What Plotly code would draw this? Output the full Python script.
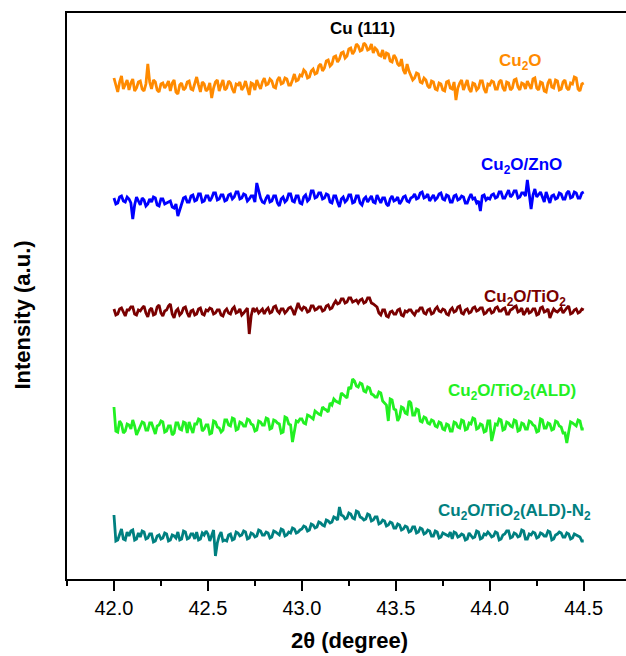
import numpy as np
import plotly.graph_objects as go

# 2-theta grid (degrees), 0.01 step
two_theta = [round(42.0 + 0.01 * i, 2) for i in range(251)]

# Relative intensities (a.u.), one row per 0.1 degree
cu2o = [
    8, 2, -6, 4, 10, -3, 2, 6, -4, 3,
    7, -5, -2, 4, 5, -3, -5, 2, 22, 4,
    -3, 6, 4, -4, -6, 2, 3, -2, 1, 5,
    -5, 3, 6, -6, -8, 1, 3, -4, -2, 4,
    5, -3, -4, 2, 9, 1, -6, 4, 2, -5,
    -3, 3, -12, -2, 4, 6, -5, 1, 6, -4,
    -2, 5, 3, -3, -7, 2, 1, 4, -4, -1,
    5, -2, -9, 3, 2, -4, 6, 1, -3, 4,
    8, 1, 2, 7, 5, -1, -2, 6, 9, 2,
    3, 8, 7, 1, 1, 6, 12, 5, 6, 11,
    10, 16, 14, 8, 9, 15, 17, 12, 13, 20,
    22, 15, 18, 25, 26, 20, 22, 29, 30, 24,
    27, 33, 34, 28, 30, 37, 38, 32, 35, 42,
    40, 35, 36, 43, 41, 36, 37, 42, 33, 38,
    36, 31, 30, 36, 27, 33, 32, 25, 24, 31,
    28, 22, 20, 27, 16, 12, 22, 15, 11, 6,
    8, 13, 12, 4, 3, 8, 6, 0, -2, 5,
    4, -3, -4, 3, 2, -4, -5, 4, 5, -2,
    -3, 4, -14, -2, 3, 6, -4, 2, 6, -3,
    -6, 3, 2, -4, -2, 5, 5, -3, -7, 2,
    1, 5, 4, -3, -3, 4, 6, -2, -5, 4,
    3, -4, -2, 6, 7, -1, -4, 3, 2, -3,
    5, 1, -3, 7, 8, -2, -4, 4, 3, -5,
    -6, 3, 7, -1, -2, 6, 5, -4, -3, 4,
    6, -2, -4, 3, 2, 9, 8, -3, -5, 2,
    3,
]
cu2o_zno = [
    2, -4, -3, 3, 4, -1, -2, 3, 1, -3,
    -19, -5, 3, -2, -5, 2, 0, -6, -4, 1,
    -2, 3, 2, -5, -6, 1, 1, -4, -3, -2,
    -1, -7, -8, -4, -16, -10, -4, 2, 3, -2,
    -2, 4, 5, -1, 0, 6, 6, -2, -1, 4,
    4, -1, 2, 7, 7, 0, 1, 5, 5, -1,
    0, 5, 6, 1, 3, 8, 8, 1, 2, 6,
    5, -1, 1, 4, 4, -2, 17, 8, 2, -2,
    -3, 2, 5, -2, -1, 4, 4, -3, -6, 1,
    3, -2, 0, 6, 6, -1, -2, 4, 4, -3,
    -4, 3, 5, -1, 1, 9, 9, 2, 3, 7,
    7, 1, 2, 6, 5, -2, -3, 4, 4, -2,
    -7, 1, 3, -2, 0, 5, 5, -3, -2, 4,
    4, -3, -5, 1, 3, -2, 1, 4, -2, -3,
    5, 1, -3, 2, 2, -4, -6, 1, 4, -1,
    0, 3, -4, -1, 3, 4, -1, -2, 2, 3,
    6, 1, 2, 7, 8, 2, 3, 6, -1, 2,
    5, 0, 2, 6, 7, 1, 0, 5, 4, -2,
    -2, 4, 5, 0, 1, 4, 3, -3, -3, 2,
    6, 1, 2, -3, -1, -11, 4, 5, 0, 2,
    1, 5, 6, 2, 3, 8, 8, 2, 2, 6,
    10, 3, 5, 9, 9, 2, 3, 7, 7, 4,
    20, 6, -9, 5, 11, 3, 6, 8, 3, -2,
    8, 2, -3, 4, 5, 1, 2, 7, 6, 1,
    1, 7, 9, 2, 3, 8, 7, 2, 2, 7,
    8,
]
cu2o_tio2 = [
    3, -3, -2, 3, 4, -1, -4, 2, 2, 5,
    5, -2, -3, 2, 1, 4, 6, -1, -5, 2,
    4, -3, -2, 5, 7, -1, -4, 1, 2, 6,
    8, -2, -6, 1, 3, -3, -1, 4, 5, -1,
    -5, 1, 2, -3, -2, 3, 4, -2, -3, 2,
    1, 4, 3, -2, -1, 2, 2, -3, -4, 1,
    3, -1, -2, 3, 5, -1, 0, 3, -3, -1,
    2, 4, -22, -4, 4, 1, 3, -1, 1, 3,
    -2, 2, 4, -1, 0, 5, 6, 1, -1, 3,
    3, -1, 1, 4, 5, 2, -3, 3, 9, 4,
    2, 5, 4, 0, 1, 6, 6, 2, 3, 5,
    5, 1, 2, 6, 7, 3, 4, 8, 11, 8,
    9, 13, 13, 9, 10, 14, 14, 10, 11, 12,
    9, 12, 13, 9, 10, 14, 14, 9, 8, 6,
    5, -1, -3, 2, 2, -4, -5, 0, 1, -2,
    -2, 2, 3, -3, -4, 1, 0, 2, 2, -1,
    -3, 1, 1, 4, 4, -1, -2, 2, 3, -2,
    -1, 3, 5, 1, 0, 3, 2, -2, -3, 2,
    4, 0, 1, 5, 6, -1, -2, 2, 3, -1,
    0, 4, 5, 1, 2, 4, 4, -2, -1, 2,
    3, -1, 0, 4, 5, 1, 1, 3, 4, -2,
    -2, 2, 3, 5, 6, 0, 1, 4, -3, 0,
    4, -1, 0, 3, 3, -3, -2, 4, 5, 0,
    1, 3, -6, -1, 3, 1, 0, 2, 4, -1,
    2, 4, 6, -2, -1, 2, 3, -1, 0, 3,
    2,
]
cu2o_tio2_ald = [
    20, -4, -5, 6, 3, -6, -4, 3, 2, -2,
    7, 1, -8, -3, 2, 5, 4, -3, -3, 4,
    4, -2, -7, 1, 2, 6, 5, -5, -4, 1,
    1, -8, -6, 4, 4, -2, -3, 5, 4, -6,
    5, -1, -6, 3, 3, 8, 7, -4, -2, 2,
    2, -7, -6, 6, 5, 0, -1, -5, -3, 7,
    7, 2, 1, 9, 8, -3, -2, 5, 4, 1,
    1, 8, 7, 3, 2, -4, -3, 6, 5, 2,
    2, 9, 8, -2, -1, 7, 6, 4, 3, -6,
    -5, 10, 9, 3, 2, -15, -6, 6, 5, 8,
    8, 4, 3, 12, 11, 9, 8, 16, 14, 13,
    12, 20, 18, 17, 15, 24, 22, 28, 26, 25,
    24, 34, 32, 31, 29, 40, 38, 48, 46, 41,
    40, 44, 43, 36, 35, 40, 39, 33, 32, 30,
    30, 35, 34, 26, 24, 22, 6, 28, 27, 18,
    17, 6, 10, 20, 19, 14, 13, 26, 24, 12,
    12, 18, 17, 6, 5, 10, 9, 4, 3, 7,
    6, 1, 0, 5, 4, -2, -3, 3, 2, -4,
    -4, 5, 4, 0, -1, 7, 6, -3, -2, 4,
    3, 9, 8, -2, -1, 3, 2, -5, -4, 6,
    6, -14, -6, 3, 2, 8, 7, -3, -2, 5,
    4, 1, 0, 7, 6, -4, -3, 4, 3, -2,
    -2, 6, 5, 2, 1, -5, -4, 8, 7, -1,
    -1, 4, 3, -3, -2, 6, 5, 1, 0, -6,
    -6, -16, -5, 5, 4, 2, 1, 7, 6, -2,
    -2,
]
cu2o_tio2_ald_n2 = [
    22, -4, -3, 3, 8, -2, -3, 5, 1, 6,
    7, -3, -2, 4, 0, 6, 5, -2, -1, 3,
    3, -5, -4, 1, 2, -2, -1, 4, 3, -4,
    -3, 2, 1, -1, 5, -3, -2, 6, 5, -2,
    -1, 3, 3, -2, 5, -3, -2, 4, 2, 6,
    3, -4, 2, 7, -19, -6, 1, 5, -4, -3,
    -4, 2, 3, -3, -2, 5, 4, 1, 2, 6,
    5, -2, -1, 4, 3, 0, 1, 7, 6, 2,
    2, 5, 4, -1, 0, 6, 5, 3, 2, 8,
    7, 1, 2, 5, 4, 9, 8, 4, 5, 7,
    8, 11, 10, 6, 7, 13, 12, 9, 10, 15,
    14, 12, 11, 17, 16, 14, 15, 20, 19, 17,
    30, 22, 21, 18, 19, 24, 23, 19, 18, 26,
    25, 20, 19, 17, 18, 23, 22, 16, 17, 20,
    20, 13, 14, 17, 16, 11, 12, 15, 14, 9,
    9, 13, 12, 7, 8, 11, 10, 5, 6, 10,
    10, 4, 5, 9, 8, 3, 4, 7, 6, 1,
    1, 6, 5, -1, 0, 4, 3, 2, 1, 5,
    -2, 5, 4, 0, 1, 3, 2, -3, -2, 4,
    1, -1, 0, 6, 5, -2, -1, 3, 2, 5,
    3, 0, 1, 5, 4, -3, -2, 2, 3, 6,
    6, -1, 0, 4, 3, 0, 1, 7, 6, -2,
    -2, 3, 2, 5, 4, -1, 0, 4, 3, 1,
    1, 6, 5, -3, -2, 2, 3, 5, 4, 0,
    0, 4, 3, -2, -1, 3, 2, 1, 0, -4,
    -4,
]

series_names = ["Cu<sub>2</sub>O", "Cu<sub>2</sub>O/ZnO", "Cu<sub>2</sub>O/TiO<sub>2</sub>",
                "Cu<sub>2</sub>O/TiO<sub>2</sub>(ALD)", "Cu<sub>2</sub>O/TiO<sub>2</sub>(ALD)-N<sub>2</sub>"]
series_values = [cu2o, cu2o_zno, cu2o_tio2, cu2o_tio2_ald, cu2o_tio2_ald_n2]
stack_offsets = [493, 379, 267, 152, 42]
colors = ["#FF8A00", "#0000FF", "#7A0000", "#22F022", "#008080"]
label_pos = [(44.165, 517), (44.17, 413), (44.19, 281), (44.12, 187), (44.13, 67)]

FONT = "Liberation Sans, Arial, sans-serif"

fig = go.Figure()
for name, vals, off, col in zip(series_names, series_values, stack_offsets, colors):
    fig.add_trace(go.Scatter(
        x=two_theta, y=np.array(vals) + off, mode="lines",
        line=dict(color=col, width=2.8), name=name, showlegend=False,
    ))

for name, (lx, ly), col in zip(series_names, label_pos, colors):
    fig.add_annotation(x=lx, y=ly, xref="x", yref="y", text="<b>%s</b>" % name,
                       showarrow=False, font=dict(size=17, color=col, family=FONT))

fig.add_annotation(x=43.32, y=551, xref="x", yref="y", text="<b>Cu (111)</b>",
                   showarrow=False, font=dict(size=17, color="black", family=FONT))

fig.add_annotation(x=0.506, y=-0.108, xref="paper", yref="paper", text="<b>2θ (degree)</b>",
                   showarrow=False, xanchor="center", yanchor="middle",
                   font=dict(size=22, color="black", family=FONT))
fig.add_annotation(x=-0.08, y=0.466, xref="paper", yref="paper", text="<b>Intensity (a.u.)</b>",
                   showarrow=False, textangle=-90, xanchor="center", yanchor="middle",
                   font=dict(size=22, color="black", family=FONT))

fig.update_layout(
    width=626, height=656,
    margin=dict(l=67, r=0, t=13, b=77),
    paper_bgcolor="white", plot_bgcolor="white",
    font=dict(family=FONT, color="black"),
    xaxis=dict(range=[41.75, 44.725], showgrid=False, zeroline=False,
               showline=True, linecolor="black", linewidth=2, mirror=True,
               ticks="outside", ticklen=10, tickwidth=2, tickcolor="black",
               tick0=42.0, dtick=0.5, tickformat=".1f",
               tickfont=dict(size=20, color="black"),
               minor=dict(ticks="outside", ticklen=5, tickwidth=2, tickcolor="black",
                          tick0=41.75, dtick=0.5)),
    yaxis=dict(range=[0, 566], showgrid=False, zeroline=False,
               showline=True, linecolor="black", linewidth=2, mirror=False,
               showticklabels=False, ticks=""),
)

fig.write_html("out.html", config={"displayModeBar": False},
               post_script="document.body.style.margin='0';document.body.style.overflow='hidden';")
